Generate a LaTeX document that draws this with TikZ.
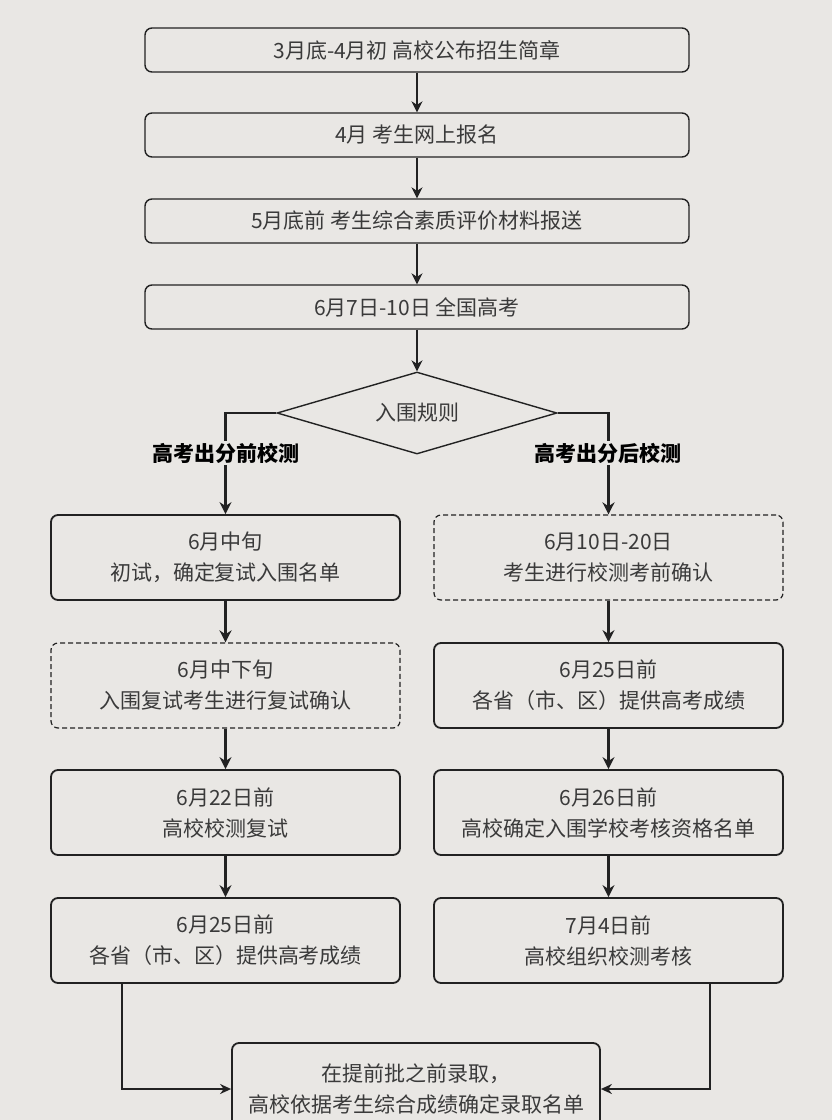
\documentclass[tikz,border=0pt]{standalone}
\usepackage{fontspec}
\newfontfamily\cjk{Noto Sans CJK SC}
\usetikzlibrary{shapes.geometric,arrows.meta,positioning}
\definecolor{paper}{HTML}{E9E7E4}
\definecolor{ink}{HTML}{222222}
\definecolor{txt}{HTML}{3A3A3A}
\tikzset
{
    stepnode/.style = {rectangle, rounded corners=7pt, draw=ink, line width=1.4pt, fill=paper, text=txt, align=center, minimum height=44pt, minimum width=544pt, font=\cjk\fontsize{21}{31}\selectfont},
    colnode/.style = {stepnode, line width=1.8pt, minimum width=349pt, minimum height=85pt},
    waitnode/.style = {colnode, line width=1.2pt, dash pattern=on 5pt off 3pt},
    rulenode/.style = {diamond, draw=ink, line width=1.4pt, fill=paper, text=txt, aspect=3.4, inner sep=0pt, minimum width=280pt, minimum height=82pt, font=\cjk\fontsize{21}{25}\selectfont},
    branchlabel/.style = {fill=paper, text=black, inner sep=2pt, font=\cjk\bfseries\fontsize{21}{25}\selectfont},
    thinflow/.style = {-{Stealth[length=11pt,width=11pt]}, draw=ink, line width=1.3pt},
    thickflow/.style = {-{Stealth[length=12pt,width=12pt]}, draw=ink, line width=2.8pt},
    sideflow/.style = {-{Stealth[length=11pt,width=10pt]}, draw=ink, line width=1.7pt}
}

\begin{document}
\begin{tikzpicture}[x=1pt, y=-1pt]
    \clip (0,0) rectangle (832,1120);
    \fill [paper] (0,0) rectangle (832,1120);

    % main line
    \node [stepnode] (apply)   at (417,50)  {3月底-4月初 高校公布招生简章};
    \node [stepnode] (signup)  at (417,135) {4月 考生网上报名};
    \node [stepnode] (report)  at (417,221) {5月底前 考生综合素质评价材料报送};
    \node [stepnode] (gaokao)  at (417,307) {6月7日-10日 全国高考};
    \node [rulenode] (rule)    at (417,413) {入围规则};

    % before scores
    \node [colnode]  (pre1) at (225.5,557.5) {6月中旬\\初试，确定复试入围名单};
    \node [waitnode] (pre2) at (225.5,685.5) {6月中下旬\\入围复试考生进行复试确认};
    \node [colnode]  (pre3) at (225.5,812.5) {6月22日前\\高校校测复试};
    \node [colnode]  (pre4) at (225.5,940.5) {6月25日前\\各省（市、区）提供高考成绩};

    % after scores
    \node [waitnode] (post1) at (608.5,557.5) {6月10日-20日\\考生进行校测考前确认};
    \node [colnode]  (post2) at (608.5,685.5) {6月25日前\\各省（市、区）提供高考成绩};
    \node [colnode]  (post3) at (608.5,812.5) {6月26日前\\高校确定入围学校考核资格名单};
    \node [colnode]  (post4) at (608.5,940.5) {7月4日前\\高校组织校测考核};

    \node [colnode, minimum width=368pt, minimum height=92pt] (admit) at (416,1089)
        {在提前批之前录取，\\高校依据考生综合成绩确定录取名单};

    \draw [thinflow] (apply) -- (signup);
    \draw [thinflow] (signup) -- (report);
    \draw [thinflow] (report) -- (gaokao);
    \draw [thinflow] (gaokao) -- (rule);

    \draw [thickflow] (rule.west) -| (pre1.north);
    \draw [thickflow] (rule.east) -| (post1.north);
    \node [branchlabel] (prelabel)  at (226,453) {高考出分前校测};
    \node [branchlabel] (postlabel) at (608,453) {高考出分后校测};

    \draw [thickflow] (pre1) -- (pre2);
    \draw [thickflow] (pre2) -- (pre3);
    \draw [thickflow] (pre3) -- (pre4);
    \draw [thickflow] (post1) -- (post2);
    \draw [thickflow] (post2) -- (post3);
    \draw [thickflow] (post3) -- (post4);

    \draw [sideflow] ([xshift=72pt]pre4.south west) |- (admit.west);
    \draw [sideflow] ([xshift=-74pt]post4.south east) |- (admit.east);
\end{tikzpicture}
\end{document}
